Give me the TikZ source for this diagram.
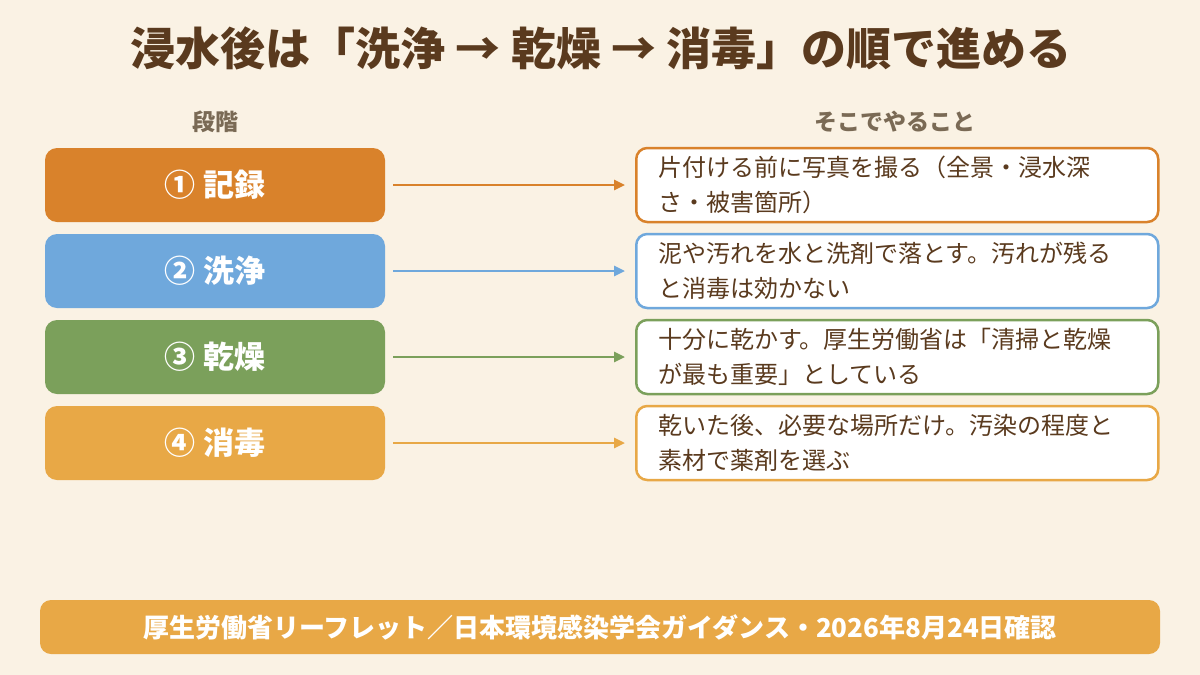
\documentclass[tikz,border=0pt]{standalone}
\usepackage{fontspec}
\setmainfont{Noto Sans CJK JP}
\usepackage{tikz}
\usetikzlibrary{arrows.meta, positioning, calc}

\definecolor{bgcream}{HTML}{FAF2E4}
\definecolor{inkbrown}{HTML}{5A3A1E}
\definecolor{headgray}{HTML}{7A6A55}
\definecolor{recorange}{HTML}{D9822B}
\definecolor{washblue}{HTML}{6FA8DC}
\definecolor{drygreen}{HTML}{7BA05B}
\definecolor{disinforange}{HTML}{E8A846}

\begin{document}
\begin{tikzpicture}[
      x=1pt, y=-1pt,
      stagebox/.style={rectangle, rounded corners=12pt, draw=none,
        minimum width=340pt, minimum height=74pt, align=center,
        text=white, font=\fontsize{31}{36}\selectfont\bfseries},
      todobox/.style={rectangle, rounded corners=11pt, fill=white,
        line width=2.5pt, minimum width=522pt, minimum height=74pt,
        text width=478pt, inner xsep=22pt, inner ysep=0pt, align=left,
        text=inkbrown, font=\fontsize{24}{35}\selectfont, anchor=west},
      colhead/.style={text=headgray, font=\fontsize{23}{27}\selectfont\bfseries},
      arrow/.style={-{Triangle[length=11pt, width=10pt]}, line width=2.6pt,
        shorten <=8pt, shorten >=10pt}
    ]
    \useasboundingbox[fill=bgcream] (0,0) rectangle (1200,675);

    % ---- title and column heads ----
    \node[text=inkbrown, font=\fontsize{45}{50}\selectfont\bfseries] (title) at (601,48)
      {浸水後は「洗浄 → 乾燥 → 消毒」の順で進める};
    \node[colhead] (hstage) at (215,122) {段階};
    \node[colhead] (htodo)  at (895,122) {そこでやること};

    % ---- left column: stages ----
    \node[stagebox, fill=recorange]    (s1) at (215,185) {① 記録};
    \node[stagebox, fill=washblue]     (s2) at (215,271) {② 洗浄};
    \node[stagebox, fill=drygreen]     (s3) at (215,357) {③ 乾燥};
    \node[stagebox, fill=disinforange] (s4) at (215,443) {④ 消毒};

    % ---- right column: what to do ----
    \node[todobox, draw=recorange]    (d1) at (635,185)
      {片付ける前に写真を撮る（全景・浸水深\\さ・被害箇所）};
    \node[todobox, draw=washblue]     (d2) at (635,271)
      {泥や汚れを水と洗剤で落とす。汚れが残る\\と消毒は効かない};
    \node[todobox, draw=drygreen]     (d3) at (635,357)
      {十分に乾かす。厚生労働省は「清掃と乾燥\\が最も重要」としている};
    \node[todobox, draw=disinforange] (d4) at (635,443)
      {乾いた後、必要な場所だけ。汚染の程度と\\素材で薬剤を選ぶ};

    \draw[arrow, recorange]    (s1) -- (d1);
    \draw[arrow, washblue]     (s2) -- (d2);
    \draw[arrow, drygreen]     (s3) -- (d3);
    \draw[arrow, disinforange] (s4) -- (d4);

    % ---- source footer ----
    \node[rectangle, rounded corners=11pt, fill=disinforange, minimum width=1120pt,
          minimum height=54pt, text=white, font=\fontsize{26}{30}\selectfont\bfseries]
      (src) at (600,627)
      {厚生労働省リーフレット／日本環境感染学会ガイダンス・2026年8月24日確認};
  \end{tikzpicture}
\end{document}
